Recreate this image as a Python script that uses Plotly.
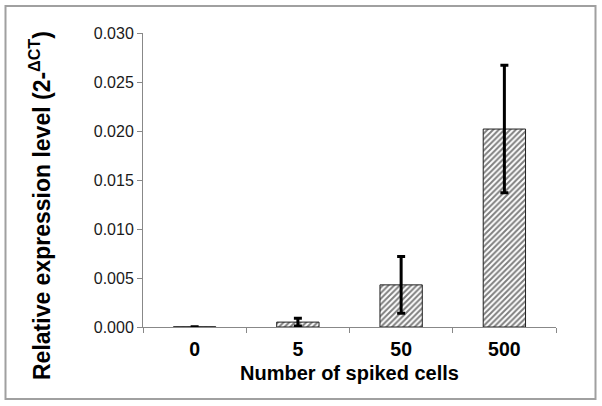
import plotly.graph_objects as go

categories = ["0", "5", "50", "500"]
values = [0.00002, 0.0005, 0.0043, 0.0202]
errors = [0.00001, 0.0004, 0.0029, 0.0065]
y_ticks = [0.000, 0.005, 0.010, 0.015, 0.020, 0.025, 0.030]
y_tick_text = ["%.3f" % v for v in y_ticks]

W, H = 602, 406
L, T, R, B = 143, 33, 46, 79
pw, ph = W - L - R, H - T - B

fig = go.Figure()
fig.add_trace(go.Bar(
    x=categories, y=values,
    marker=dict(color="white", line=dict(color="#202020", width=1),
                pattern=dict(shape="/", fgcolor="black", bgcolor="white", size=4, solidity=0.5)),
    error_y=dict(type="data", array=errors, visible=True, color="black", thickness=3, width=4),
    width=0.41,
))

def px(x):
    return (x - L) / pw

def py(y):
    return (H - B - y) / ph

fig.add_shape(type="rect", xref="paper", yref="paper",
              x0=px(5.5), x1=px(595.5), y0=py(399), y1=py(6),
              line=dict(color="#a0a0a0", width=2), layer="below")

fig.add_annotation(text="<b>Relative expression level (2-<sup>ΔCT</sup>)</b>", xref="paper", yref="paper",
                   x=px(40), y=py(206), textangle=-90, showarrow=False,
                   xanchor="center", yanchor="middle",
                   font=dict(family="Liberation Sans, Arial", size=23, color="black"))

fig.update_layout(
    width=W, height=H, margin=dict(l=L, r=R, t=T, b=B),
    paper_bgcolor="white", plot_bgcolor="white", showlegend=False,
    font=dict(family="Liberation Sans, Arial", color="black"),
)
fig.update_xaxes(
    type="category", showline=True, linecolor="#888888", linewidth=1,
    ticks="outside", tickson="boundaries", ticklen=5, tickcolor="#888888",
    tickfont=dict(size=19.5, family="Liberation Sans, Arial", color="black"),
    ticklabelstandoff=5,
    title=dict(text="<b>Number of spiked cells</b>", font=dict(size=20), standoff=6),
    showgrid=False,
)
fig.update_xaxes(ticktext=["<b>%s</b>" % c for c in categories], tickvals=categories)
fig.update_yaxes(
    range=[0, 0.030], tickvals=y_ticks, ticktext=y_tick_text,
    showline=True, linecolor="#888888", linewidth=1, ticks="outside", ticklen=5,
    tickcolor="#888888", tickfont=dict(size=16, color="#1a1a1a"), showgrid=False, zeroline=False,
)
fig.write_html("out.html", config={"displayModeBar": False},
               post_script="document.body.style.margin='0';document.body.style.overflow='hidden';")
